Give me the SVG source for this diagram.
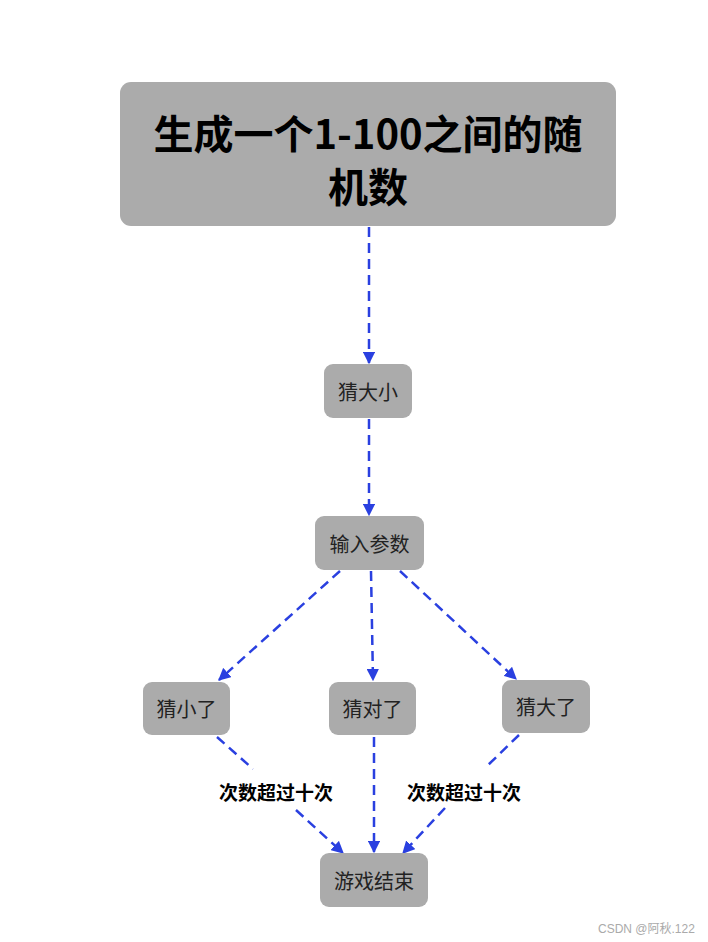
<svg xmlns="http://www.w3.org/2000/svg" width="708" height="942" viewBox="0 0 708 942">
<style>
.box{fill:#ababab;}
.t{font-family:"Noto Sans CJK SC","Noto Sans",sans-serif;font-size:20px;fill:#222;text-anchor:middle;dominant-baseline:central;}
.big{font-family:"Noto Sans CJK SC","Noto Sans",sans-serif;font-size:40px;font-weight:bold;fill:#000;text-anchor:middle;dominant-baseline:central;}
.lbl{font-family:"Noto Sans CJK SC","Noto Sans",sans-serif;font-size:19px;font-weight:bold;fill:#000;text-anchor:middle;dominant-baseline:central;}
.e{stroke:#2a40e0;stroke-width:2.5;fill:none;stroke-dasharray:10 6;marker-end:url(#ah);}
.wm{font-family:"Liberation Sans","Noto Sans CJK SC",sans-serif;font-size:12px;fill:#aaa;}
</style>
<defs>
<marker id="ah" viewBox="0 0 10 10" refX="9" refY="5" markerWidth="5" markerHeight="5" orient="auto" markerUnits="strokeWidth">
<path d="M0,0 L10,5 L0,10 z" fill="#2a40e0"/>
</marker>
</defs>
<rect width="708" height="942" fill="#fff"/>
<g id="edges">
<line class="e" x1="369" y1="227" x2="369" y2="363"/>
<line class="e" x1="369" y1="419" x2="369" y2="515"/>
<line class="e" x1="340" y1="571" x2="219" y2="680"/>
<line class="e" x1="371" y1="571" x2="373" y2="680"/>
<line class="e" x1="400" y1="571" x2="516" y2="679"/>
<path class="e" d="M217,737 L253,769 M296,810 L343,853"/>
<line class="e" x1="374" y1="737" x2="374" y2="852"/>
<path class="e" d="M519,735 L485,768 M445,808 L403,853"/>
<text class="lbl" x="276" y="791">次数超过十次</text>
<text class="lbl" x="464" y="791">次数超过十次</text>
</g>
<g id="n1">
<rect class="box" x="120" y="82" width="496" height="144" rx="11"/>
<text class="big" x="368" y="132">生成一个1-100之间的随</text>
<text class="big" x="368" y="185">机数</text>
</g>
<g id="n2"><rect class="box" x="324" y="364" width="88" height="54" rx="9"/><text class="t" x="368" y="391">猜大小</text></g>
<g id="n3"><rect class="box" x="315" y="516" width="109" height="54" rx="9"/><text class="t" x="369.5" y="543">输入参数</text></g>
<g id="n4"><rect class="box" x="143" y="682" width="87" height="53" rx="9"/><text class="t" x="186.5" y="708.5">猜小了</text></g>
<g id="n5"><rect class="box" x="329" y="682" width="87" height="53" rx="9"/><text class="t" x="372.5" y="708.5">猜对了</text></g>
<g id="n6"><rect class="box" x="502" y="680" width="88" height="53" rx="9"/><text class="t" x="546" y="706.5">猜大了</text></g>
<g id="n7"><rect class="box" x="320" y="853" width="108" height="54" rx="9"/><text class="t" x="374" y="880">游戏结束</text></g>
<text class="wm" x="598" y="933">CSDN @阿秋.122</text>
</svg>
